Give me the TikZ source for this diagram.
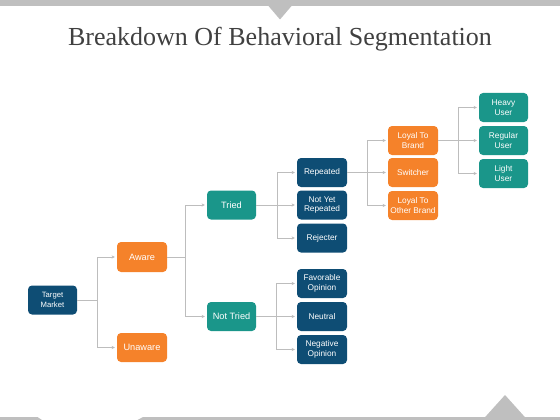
\documentclass[tikz,border=0pt]{standalone}
\usepackage{fontspec}
\setmainfont{Liberation Serif}
\newfontfamily\boxfont{Liberation Sans}
\usetikzlibrary{arrows.meta}
\definecolor{dblue}{HTML}{0E4D74}
\definecolor{orng}{HTML}{F5822A}
\definecolor{teal2}{HTML}{1A968A}
\definecolor{barg}{HTML}{BFBFBF}
\definecolor{lineg}{HTML}{BDBDBD}
\definecolor{titleg}{HTML}{404040}
\tikzset{
  nbox/.style={rounded corners=4pt, minimum width=50pt, minimum height=29pt, inner sep=1pt,
    align=center, text=white, font=\boxfont\fontsize{8.3}{9.7}\selectfont},
  bluebox/.style={nbox, fill=dblue},
  orbox/.style={nbox, fill=orng},
  tlbox/.style={nbox, fill=teal2},
  bigtxt/.style={font=\boxfont\fontsize{9.2}{10.5}\selectfont},
  conn/.style={draw=lineg, line width=0.6pt},
  arr/.style={conn, -{Stealth[length=3.2pt,width=3.2pt]}, shorten >=2pt},
}
\begin{document}
\begin{tikzpicture}[x=1pt,y=-1pt]
\useasboundingbox (0,0) rectangle (560,420);
% decorative bars
\fill[barg] (0,0) rectangle (560,6);
\fill[barg] (268.5,6) -- (280,19.5) -- (291.5,6) -- cycle;
\fill[barg] (0,417) -- (37.5,417) -- (42,420) -- (0,420) -- cycle;
\fill[barg] (143,417) -- (560,417) -- (560,420) -- (137.5,420) -- cycle;
\fill[barg] (485,417.2) -- (505,395) -- (525,417.2) -- cycle;
% title
\node[text=titleg, font=\fontsize{26}{30}\selectfont] (title) at (280,39) {Breakdown Of Behavioral Segmentation};
% nodes
\node[bluebox, minimum width=49pt, font=\boxfont\fontsize{7.7}{9.6}\selectfont] (tm) at (52.5,300) {Target\\Market};
\node[orbox, bigtxt, minimum height=30pt] (aw) at (142,257) {Aware};
\node[orbox, bigtxt] (un) at (142,347.5) {Unaware};
\node[tlbox, bigtxt, minimum width=49pt] (tr) at (231.5,205) {Tried};
\node[tlbox, bigtxt, minimum width=49pt] (nt) at (231.5,316.5) {Not Tried};
\node[bluebox] (rp) at (322,172.5) {Repeated};
\node[bluebox] (ny) at (322,205) {Not Yet\\Repeated};
\node[bluebox] (rj) at (322,238) {Rejecter};
\node[bluebox] (fo) at (322,283.5) {Favorable\\Opinion};
\node[bluebox] (ne) at (322,316.5) {Neutral};
\node[bluebox] (ng) at (322,349.5) {Negative\\Opinion};
\node[orbox] (lb) at (413,140.5) {Loyal To\\Brand};
\node[orbox] (sw) at (413,172.5) {Switcher};
\node[orbox] (lo) at (413,205.5) {Loyal To\\Other Brand};
\node[tlbox, minimum width=49pt] (hu) at (503.5,107.5) {Heavy\\User};
\node[tlbox, minimum width=49pt] (ru) at (503.5,140.5) {Regular\\User};
\node[tlbox, minimum width=49pt] (lu) at (503.5,173.5) {Light\\User};
% junctions
\coordinate (j1) at (97,300);
\coordinate (j2) at (185,257);
\coordinate (j3) at (277,205);
\coordinate (j4) at (276,316.5);
\coordinate (j5) at (367,172.5);
\coordinate (j6) at (458,140.5);
% connectors
\draw[conn] (tm.east) -- (j1);
\draw[arr] (j1) |- (aw.west);
\draw[arr] (j1) |- (un.west);
\draw[conn] (aw.east) -- (j2);
\draw[arr] (j2) |- (tr.west);
\draw[arr] (j2) |- (nt.west);
\draw[conn] (tr.east) -- (j3);
\draw[arr] (j3) |- (rp.west);
\draw[arr] (j3) |- (ny.west);
\draw[arr] (j3) |- (rj.west);
\draw[conn] (nt.east) -- (j4);
\draw[arr] (j4) |- (fo.west);
\draw[arr] (j4) |- (ne.west);
\draw[arr] (j4) |- (ng.west);
\draw[conn] (rp.east) -- (j5);
\draw[arr] (j5) |- (lb.west);
\draw[arr] (j5) |- (sw.west);
\draw[arr] (j5) |- (lo.west);
\draw[conn] (lb.east) -- (j6);
\draw[arr] (j6) |- (hu.west);
\draw[arr] (j6) |- (ru.west);
\draw[arr] (j6) |- (lu.west);
\end{tikzpicture}
\end{document}
